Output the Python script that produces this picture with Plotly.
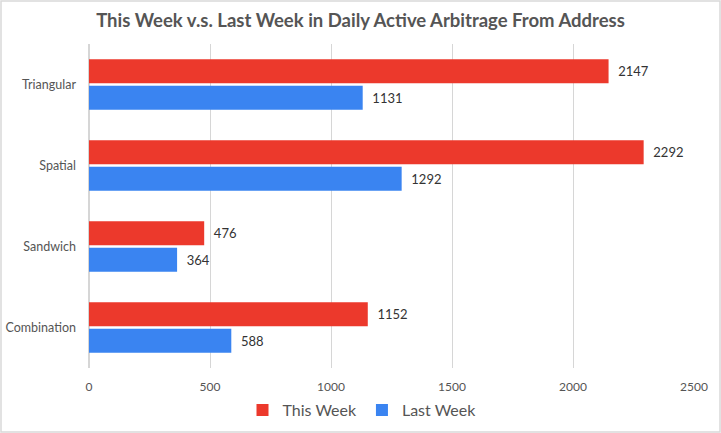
import plotly.graph_objects as go

categories = ["Triangular", "Spatial", "Sandwich", "Combination"]
this_week = [2147, 2292, 476, 1152]
last_week = [1131, 1292, 364, 588]
x_ticks = [0, 500, 1000, 1500, 2000, 2500]

W, H = 721, 433
ml, mr, mt, mb = 89, 27, 44, 65
font = "Lato, Noto Sans, sans-serif"

fig = go.Figure()
fig.add_trace(go.Bar(
    y=categories, x=this_week, orientation="h", name="This Week",
    marker=dict(color="#ec392c", line=dict(width=0)),
    text=this_week, texttemplate="  %{x}", textposition="outside",
    textfont=dict(size=13, color="#333333", family=font), cliponaxis=False,
))
fig.add_trace(go.Bar(
    y=categories, x=last_week, orientation="h", name="Last Week",
    marker=dict(color="#3a84f1", line=dict(width=0)),
    text=last_week, texttemplate="  %{x}", textposition="outside",
    textfont=dict(size=13, color="#333333", family=font), cliponaxis=False,
))

pw = W - ml - mr
ph = H - mt - mb
fig.add_shape(type="rect", xref="paper", yref="paper",
              x0=-(ml - 1) / pw, x1=1 + (mr - 1) / pw,
              y0=-(mb - 1) / ph, y1=1 + (mt - 1) / ph,
              line=dict(color="#d9d9d9", width=1.5), layer="below")

fig.update_layout(
    width=W, height=H,
    margin=dict(l=ml, r=mr, t=mt, b=mb, pad=0, autoexpand=False),
    paper_bgcolor="white", plot_bgcolor="white",
    barmode="group", bargap=0.35, bargroupgap=0.09,
    title=dict(text="<b>This Week v.s. Last Week in Daily Active Arbitrage From Address</b>",
               x=0.5, xanchor="center", y=0.952, yanchor="middle",
               font=dict(size=18.5, color="#555555", family=font)),
    xaxis=dict(range=[0, 2500], tickvals=x_ticks, showgrid=True, gridcolor="#d6d6d6",
               gridwidth=1, zeroline=True, zerolinecolor="#d6d6d6", showline=False,
               automargin=False,
               ticks="", tickfont=dict(size=12, color="#555555", family=font), ticklabelstandoff=10),
    yaxis=dict(autorange="reversed", showgrid=False, showline=False, ticks="",
               automargin=False,
               tickfont=dict(size=12.5, color="#555555", family=font), ticklabelstandoff=12),
    legend=dict(orientation="h", xref="container", x=362 / 721, xanchor="center",
                yref="container", y=(433 - 410) / 433, yanchor="middle",
                font=dict(size=16, color="#555555", family=font), itemwidth=30),
    showlegend=True,
)

fig.write_html("out.html", config={"displayModeBar": False},
               post_script="document.body.style.margin='0';document.body.style.overflow='hidden';")
